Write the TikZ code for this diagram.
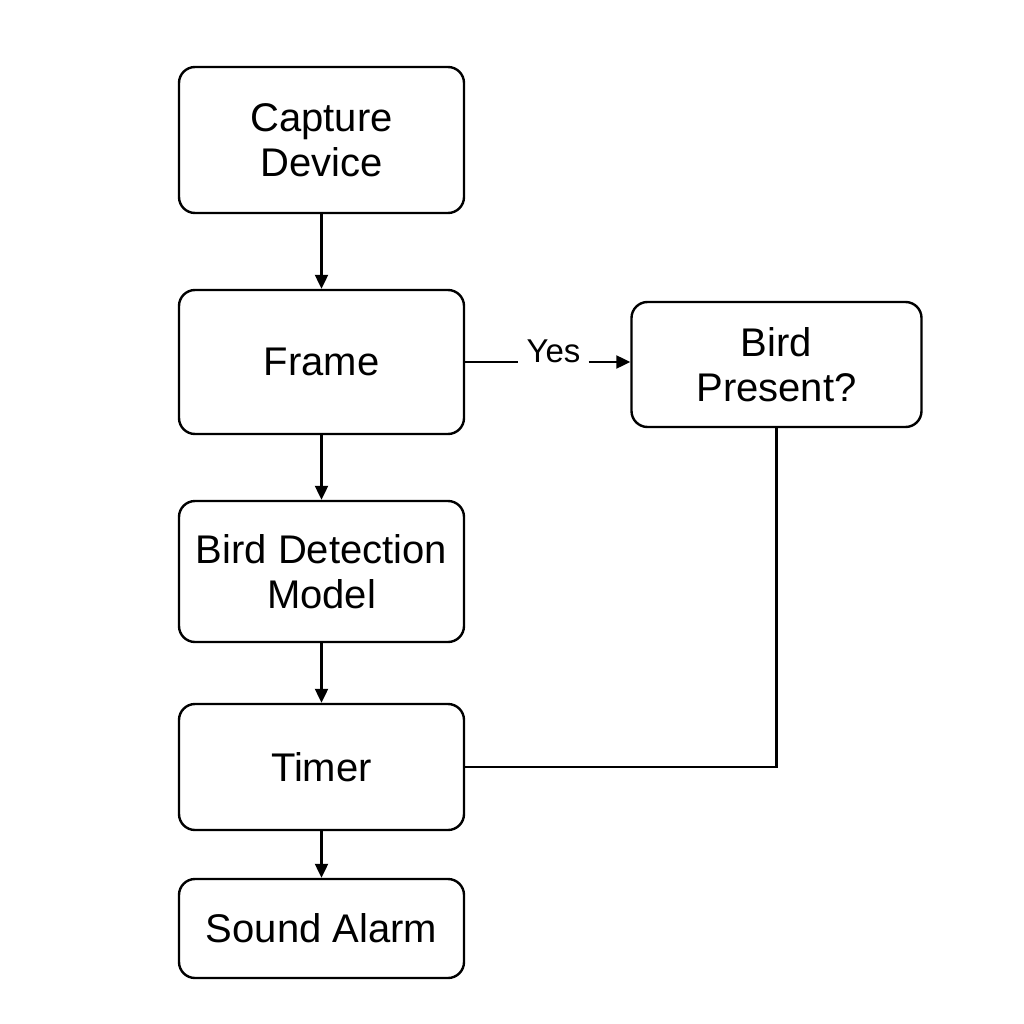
\documentclass[tikz,border=0pt]{standalone}
\usepackage{fontspec}
\setmainfont{Liberation Sans}
\usetikzlibrary{arrows.meta}
\begin{document}
\begin{tikzpicture}[x=1pt,y=-1pt,
  box/.style={draw=black,line width=2.4pt,rounded corners=16pt,fill=white,
    align=center,minimum width=285pt,inner sep=0pt,
    font=\fontsize{40}{45}\selectfont},
  conn/.style={line width=2.2pt,draw=black},
  arr/.style={conn,-{Triangle[length=14pt,width=13pt]}},
  lbl/.style={inner sep=0pt,font=\fontsize{33}{38}\selectfont}]
\useasboundingbox[fill=white] (0,0) rectangle (1024,1024);
\node[box,minimum height=146pt] (cap) at (321.5,140) {Capture\\Device};
\node[box,minimum height=144pt] (frame) at (321.5,362) {Frame};
\node[box,minimum height=141pt] (bdm) at (321.5,571.5) {Bird Detection\\Model};
\node[box,minimum height=126pt] (timer) at (321.5,767) {Timer};
\node[box,minimum height=99pt] (alarm) at (321.5,928.5) {Sound Alarm};
\node[box,minimum width=290pt,minimum height=125pt] (bird) at (776.5,364.5) {Bird\\Present?};
\node[lbl,minimum width=70pt] (yes) at (553.5,351) {Yes};
\draw[arr] (cap) -- (frame);
\draw[arr] (frame) -- (bdm);
\draw[arr] (bdm) -- (timer);
\draw[arr] (timer) -- (alarm);
\draw[conn] (frame.east) -- (yes.west |- frame.east);
\draw[arr] (yes.east |- frame.east) -- (bird.west |- frame.east);
\draw[conn] (bird.south) |- (timer.east);
\end{tikzpicture}
\end{document}
